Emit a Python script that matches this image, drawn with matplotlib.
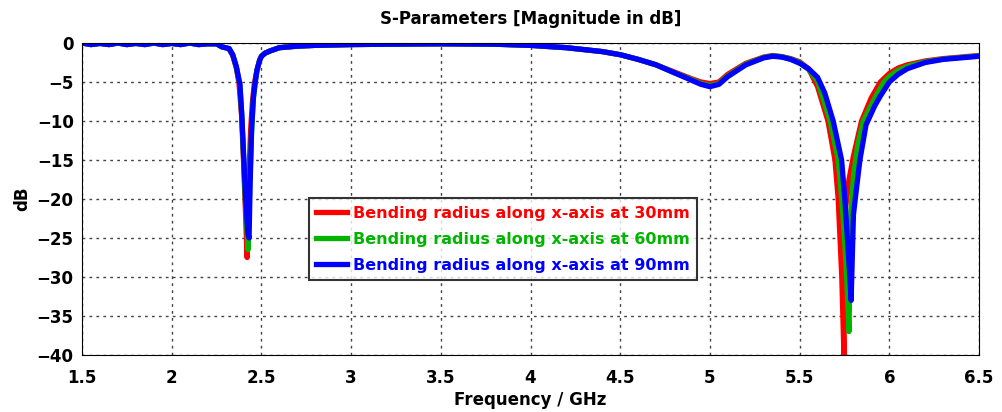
import numpy as np
from matplotlib import pyplot as plt

# frequency grid (GHz) and S11 (dB) for each bending radius
f_30 = [1.5, 1.55, 1.6, 1.65, 1.7, 1.75, 1.8, 1.85, 1.9, 1.95, 2.0, 2.05, 2.1, 2.15, 2.2, 2.25,
        2.28, 2.3, 2.32, 2.34, 2.36, 2.375, 2.39, 2.40, 2.41, 2.42, 2.43, 2.44, 2.45, 2.46, 2.475,
        2.49, 2.5, 2.52, 2.55, 2.6, 2.7, 2.8, 3.0, 3.2, 3.5, 3.8, 4.0, 4.2, 4.4, 4.5, 4.6, 4.7,
        4.8, 4.9, 4.95, 5.0, 5.05, 5.1, 5.2, 5.3, 5.35, 5.4, 5.45, 5.5, 5.55, 5.6, 5.658, 5.697,
        5.715, 5.725, 5.735, 5.747, 5.757, 5.775, 5.80, 5.845, 5.9, 5.95, 6.0, 6.05, 6.1, 6.2,
        6.3, 6.4, 6.5]
db_30 = [0, -0.2, -0.05, -0.2, 0, -0.2, -0.05, -0.2, 0, -0.2, -0.05, -0.2, 0, -0.2, -0.1, -0.1,
         -0.5, -0.6, -0.8, -1.6, -3.2, -5.2, -9.5, -15, -21, -27.5, -17, -11, -7.5, -5.3, -3.5,
         -2.2, -1.7, -1.3, -1.0, -0.6, -0.4, -0.3, -0.2, -0.15, -0.1, -0.15, -0.3, -0.6, -1.1, -1.5,
         -2.1, -2.8, -3.7, -4.6, -5.0, -5.2, -5.0, -4.0, -2.6, -1.8, -1.6, -1.75, -2.0, -2.4, -3.3,
         -5.6, -10, -15, -20, -25, -30, -40, -21, -17.5, -14.5, -10, -7, -5, -3.9, -3.2, -2.8,
         -2.3, -2.0, -1.8, -1.6]

f_60 = [1.5, 1.55, 1.6, 1.65, 1.7, 1.75, 1.8, 1.85, 1.9, 1.95, 2.0, 2.05, 2.1, 2.15, 2.2, 2.25,
        2.28, 2.3, 2.32, 2.34, 2.36, 2.38, 2.39, 2.40, 2.41, 2.42, 2.425, 2.435, 2.445, 2.455,
        2.465, 2.475, 2.49, 2.5, 2.52, 2.55, 2.6, 2.7, 2.8, 3.0, 3.2, 3.5, 3.8, 4.0, 4.2, 4.4,
        4.5, 4.6, 4.7, 4.8, 4.9, 4.95, 5.0, 5.05, 5.1, 5.2, 5.3, 5.35, 5.4, 5.45, 5.5, 5.55, 5.6,
        5.67, 5.715, 5.735, 5.75, 5.762, 5.775, 5.785, 5.80, 5.825, 5.855, 5.92, 5.97, 6.0, 6.05,
        6.1, 6.2, 6.3, 6.4, 6.5]
db_60 = [0, -0.2, -0.05, -0.2, 0, -0.2, -0.05, -0.2, 0, -0.2, -0.05, -0.2, 0, -0.2, -0.1, -0.1,
         -0.5, -0.6, -0.75, -1.5, -3.1, -5.4, -9.2, -14.5, -20, -24, -26.5, -18, -11.5, -7.2,
         -5.1, -3.5, -2.2, -1.7, -1.3, -1.0, -0.6, -0.4, -0.3, -0.2, -0.15, -0.1, -0.15, -0.3,
         -0.6, -1.1, -1.5, -2.1, -2.8, -3.8, -4.7, -5.2, -5.45, -5.2, -4.2, -2.7, -1.85, -1.65,
         -1.75, -2.05, -2.5, -3.4, -4.9, -10, -15, -20, -25, -30, -37, -22, -17, -13, -10, -7,
         -5, -4.3, -3.5, -3.0, -2.4, -2.05, -1.85, -1.65]

f_90 = [1.5, 1.55, 1.6, 1.65, 1.7, 1.75, 1.8, 1.85, 1.9, 1.95, 2.0, 2.05, 2.1, 2.15, 2.2, 2.25,
        2.28, 2.3, 2.32, 2.34, 2.36, 2.38, 2.39, 2.40, 2.41, 2.42, 2.425, 2.431, 2.437, 2.445,
        2.455, 2.465, 2.475, 2.49, 2.5, 2.52, 2.55, 2.6, 2.7, 2.8, 3.0, 3.2, 3.5, 3.8, 4.0, 4.2,
        4.4, 4.5, 4.6, 4.7, 4.8, 4.9, 4.95, 5.0, 5.05, 5.1, 5.2, 5.3, 5.35, 5.4, 5.45, 5.5, 5.55,
        5.6, 5.64, 5.687, 5.734, 5.752, 5.766, 5.78, 5.787, 5.80, 5.81, 5.836, 5.87, 5.92, 5.95,
        6.0, 6.05, 6.1, 6.2, 6.3, 6.4, 6.5]
db_90 = [0, -0.2, -0.05, -0.2, 0, -0.2, -0.05, -0.2, 0, -0.2, -0.05, -0.2, 0, -0.2, -0.1, -0.1,
         -0.5, -0.6, -0.7, -1.5, -3.0, -5.3, -9.0, -14, -19, -23, -24.5, -25, -18, -11, -7, -5,
         -3.5, -2.2, -1.7, -1.3, -1.0, -0.6, -0.4, -0.3, -0.2, -0.15, -0.1, -0.15, -0.3, -0.6,
         -1.1, -1.5, -2.1, -2.8, -3.8, -4.8, -5.3, -5.6, -5.3, -4.3, -2.8, -1.9, -1.7, -1.8, -2.1,
         -2.6, -3.3, -4.4, -6.4, -10, -15, -20, -25, -30, -33, -22, -20, -15, -10.5, -8, -6.8,
         -5.0, -4.0, -3.3, -2.5, -2.1, -1.9, -1.7]

labels = ["Bending radius along x-axis at 30mm",
          "Bending radius along x-axis at 60mm",
          "Bending radius along x-axis at 90mm"]
colors = ["#ff0000", "#00b400", "#0000ff"]

fig = plt.figure(figsize=(10.03, 4.12), dpi=100)
ax = fig.add_axes([0.0818, 0.1383, 0.8943, 0.7573])

for f, d, lab, c in zip([f_30, f_60, f_90], [db_30, db_60, db_90], labels, colors):
    ax.plot(f, d, color=c, lw=3.8, label=lab)

ax.set_xlim(1.5, 6.5)
ax.set_ylim(-40, 0)
ax.set_xticks(np.arange(1.5, 6.51, 0.5))
ax.set_xticklabels(["1.5", "2", "2.5", "3", "3.5", "4", "4.5", "5", "5.5", "6", "6.5"])
ax.set_yticks(np.arange(-40, 1, 5))
ax.grid(True, linestyle=(0, (2, 3)), color="#444444", linewidth=1)
ax.tick_params(length=0, labelsize=12)
ax.tick_params(axis="x", pad=10)
ax.tick_params(axis="y", pad=6)
for t in ax.get_xticklabels() + ax.get_yticklabels():
    t.set_fontweight("bold")

ax.set_title("S-Parameters [Magnitude in dB]", fontsize=12, fontweight="bold", pad=14)
ax.set_xlabel("Frequency / GHz", fontsize=12, fontweight="bold", labelpad=3)
ax.set_ylabel("dB", fontsize=12, fontweight="bold", labelpad=4)

leg = ax.legend(loc="lower left", bbox_to_anchor=(0.253, 0.24),
                prop={"weight": "bold", "size": 11.5}, frameon=True, fancybox=False,
                edgecolor="black", handlelength=1.9, handletextpad=0.4, borderpad=0.45,
                labelspacing=0.7, borderaxespad=0)
leg.get_frame().set_linewidth(1.5)
for txt, c in zip(leg.get_texts(), colors):
    txt.set_color(c)

fig.savefig("out.png", dpi=100)
